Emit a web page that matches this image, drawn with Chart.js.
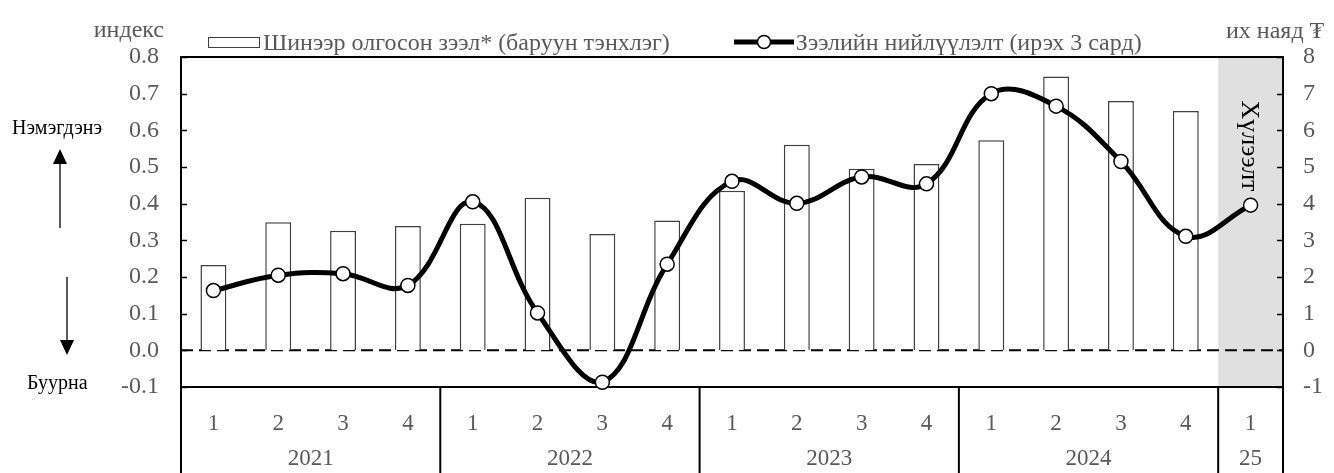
<!DOCTYPE html>
<html lang="mn">
<head>
<meta charset="utf-8">
<title>Зээлийн нийлүүлэлт</title>
<script src="https://cdn.jsdelivr.net/npm/chart.js@4.4.1/dist/chart.umd.min.js"></script>
<style>
  html, body { margin: 0; padding: 0; background: #fff; }
  #wrap {
    position: relative;
    width: 1334px;
    height: 473px;
    font-family: 'Liberation Serif', 'Times New Roman', 'DejaVu Serif', serif;
  }
  #chart-box { position: absolute; left: 0; top: 0; width: 1334px; height: 473px; }
  .txt { position: absolute; white-space: nowrap; line-height: 1; }
  .axis-title { font-size: 24px; color: #595959; }
  .side-note { font-size: 20px; color: #000; }
  #legend {
    position: absolute; left: 208px; top: 30px;
    display: flex; align-items: center;
    font-size: 24px; color: #595959; white-space: nowrap; line-height: 1;
  }
  .legend-box {
    display: inline-block; width: 50px; height: 9px;
    border: 1.5px solid #404040; background: #fff; margin-right: 3px;
  }
  .legend-line { display: inline-block; margin-left: 64px; margin-right: 2px; }
  #arrows { position: absolute; left: 0; top: 0; pointer-events: none; }
</style>
</head>
<body>
<div id="wrap">
  <div id="chart-box"><canvas id="chart"></canvas></div>

  <div class="txt axis-title" style="right:1170px; top:17px;">индекс</div>
  <div class="txt axis-title" style="left:1226px; top:18px;">их наяд ₮</div>

  <div id="legend">
    <span class="legend-box"></span><span>Шинээр олгосон зээл* (баруун тэнхлэг)</span>
    <svg class="legend-line" width="60" height="16" viewBox="0 0 60 16">
      <line x1="0" y1="8" x2="60" y2="8" stroke="#000" stroke-width="5"/>
      <circle cx="30" cy="8" r="6.5" fill="#fff" stroke="#000" stroke-width="1.5"/>
    </svg><span>Зээлийн нийлүүлэлт (ирэх 3 сард)</span>
  </div>

  <div class="txt side-note" style="left:12px; top:117px;">Нэмэгдэнэ</div>
  <div class="txt side-note" style="left:27px; top:372px;">Буурна</div>

  <svg id="arrows" width="120" height="473">
    <line x1="60" y1="228" x2="60" y2="162" stroke="#000" stroke-width="1.3"/>
    <polygon points="53,164 67,164 60,149" fill="#000"/>
    <line x1="67" y1="277" x2="67" y2="342" stroke="#000" stroke-width="1.3"/>
    <polygon points="60,340 74,340 67,355" fill="#000"/>
  </svg>
</div>

<script>
// Quarters along the bottom, grouped by year
const quarterLabels = ['1', '2', '3', '4', '1', '2', '3', '4', '1', '2', '3', '4', '1', '2', '3', '4', '1'];
const yearLabels = ['2021', '2022', '2023', '2024', '25'];
const quartersPerYear = [4, 4, 4, 4, 1];

// New loans issued, trillion ₮ (right axis)
const newLoans = [2.33, 3.49, 3.26, 3.39, 3.45, 4.16, 3.17, 3.54, 4.35, 5.61, 4.95, 5.08, 5.73, 7.47, 6.80, 6.53, null];
// Credit supply index, next 3 months (left axis)
const creditSupply = [0.163, 0.205, 0.209, 0.177, 0.405, 0.102, -0.087, 0.235, 0.461, 0.401, 0.473, 0.454, 0.700, 0.666, 0.515, 0.311, 0.396];

const leftTicks = [-0.1, 0.0, 0.1, 0.2, 0.3, 0.4, 0.5, 0.6, 0.7, 0.8];
const rightTicks = [-1, 0, 1, 2, 3, 4, 5, 6, 7, 8];

// Last category is an expectation
const forecastFrom = 16;
const forecastLabel = 'Хүлээлт';

const SERIF = "'Liberation Serif', 'Times New Roman', serif";
const GREY = '#595959';

/**
 * Shading, zero line, frame, inner ticks and the two-row x axis
 */
const decorPlugin = {
  id: 'decor',
  beforeDatasetsDraw(chart) {
    const { ctx, chartArea: a, scales: { x, y, y1 } } = chart;
    const half = (x.getPixelForValue(1) - x.getPixelForValue(0)) / 2;
    ctx.save();

    // forecast shading
    const fx = x.getPixelForValue(forecastFrom) - half;
    ctx.fillStyle = '#e0e0e0';
    ctx.fillRect(fx, a.top, a.right - fx, a.bottom - a.top);

    // forecast text, rotated
    ctx.save();
    ctx.translate(x.getPixelForValue(forecastFrom) - 2, a.top + 89);
    ctx.rotate(Math.PI / 2);
    ctx.fillStyle = '#000';
    ctx.font = `26px ${SERIF}`;
    ctx.textAlign = 'center';
    ctx.textBaseline = 'middle';
    ctx.fillText(forecastLabel, 0, 0);
    ctx.restore();

    // dashed zero line
    const y0 = y.getPixelForValue(0);
    ctx.strokeStyle = '#000';
    ctx.lineWidth = 2;
    ctx.setLineDash([12, 6]);
    ctx.beginPath();
    ctx.moveTo(a.left, y0);
    ctx.lineTo(a.right, y0);
    ctx.stroke();
    ctx.setLineDash([]);

    // frame
    ctx.strokeRect(a.left, a.top, a.right - a.left, a.bottom - a.top);

    // tick marks pointing inwards
    ctx.lineWidth = 1.5;
    ctx.beginPath();
    y.ticks.forEach(t => {
      const py = Math.round(y.getPixelForValue(t.value)) + 0.5;
      ctx.moveTo(a.left, py);
      ctx.lineTo(a.left + 6, py);
    });
    y1.ticks.forEach(t => {
      const py = Math.round(y1.getPixelForValue(t.value)) + 0.5;
      ctx.moveTo(a.right - 6, py);
      ctx.lineTo(a.right, py);
    });
    ctx.stroke();
    ctx.restore();
  },
  afterDraw(chart) {
    const { ctx, chartArea: a, scales: { x } } = chart;
    const half = (x.getPixelForValue(1) - x.getPixelForValue(0)) / 2;
    const bottom = chart.height;
    ctx.save();
    ctx.strokeStyle = '#000';
    ctx.lineWidth = 2;
    ctx.fillStyle = GREY;
    ctx.font = `23px ${SERIF}`;
    ctx.textAlign = 'center';
    ctx.textBaseline = 'middle';

    let start = 0;
    const edges = [x.getPixelForValue(0) - half];
    yearLabels.forEach((label, i) => {
      const end = start + quartersPerYear[i] - 1;
      const left = x.getPixelForValue(start) - half;
      const right = x.getPixelForValue(end) + half;
      ctx.fillText(label, (left + right) / 2, a.bottom + 72);
      edges.push(right);
      start = end + 1;
    });

    ctx.beginPath();
    edges.forEach(px => {
      ctx.moveTo(px, a.bottom);
      ctx.lineTo(px, bottom);
    });
    ctx.stroke();
    ctx.restore();
  }
};

const canvas = document.getElementById('chart');

new Chart(canvas, {
  type: 'bar',
  data: {
    labels: quarterLabels,
    datasets: [
      {
        type: 'line',
        label: 'Зээлийн нийлүүлэлт (ирэх 3 сард)',
        data: creditSupply,
        yAxisID: 'y',
        borderColor: '#000',
        borderWidth: 5,
        tension: 0.4,
        pointRadius: 7,
        pointHoverRadius: 7,
        pointBackgroundColor: '#fff',
        pointBorderColor: '#000',
        pointBorderWidth: 1.5,
        fill: false,
        clip: false,
        order: 0
      },
      {
        type: 'bar',
        label: 'Шинээр олгосон зээл* (баруун тэнхлэг)',
        data: newLoans,
        yAxisID: 'y1',
        backgroundColor: '#fff',
        borderColor: '#404040',
        borderWidth: 1.5,
        borderSkipped: 'start',
        barPercentage: 0.4,
        categoryPercentage: 1,
        order: 1
      }
    ]
  },
  options: {
    responsive: true,
    maintainAspectRatio: false,
    animation: false,
    layout: { padding: { top: 57, left: 0, right: 0, bottom: 0 } },
    plugins: {
      legend: { display: false },
      title: { display: false },
      tooltip: { enabled: false }
    },
    scales: {
      x: {
        type: 'category',
        offset: true,
        grid: { display: false },
        border: { display: false },
        ticks: {
          color: GREY,
          font: { family: SERIF, size: 23 },
          padding: 15,
          maxRotation: 0,
          autoSkip: false
        },
        afterFit: scale => { scale.height = 86; }
      },
      y: {
        position: 'left',
        min: -0.1,
        max: 0.8,
        grid: { display: false, drawTicks: false },
        border: { display: false },
        afterBuildTicks: scale => { scale.ticks = leftTicks.map(v => ({ value: v })); },
        ticks: {
          color: GREY,
          font: { family: SERIF, size: 24 },
          padding: 22,
          callback: v => v.toFixed(1)
        },
        afterFit: scale => { scale.width = 181; }
      },
      y1: {
        position: 'right',
        min: -1,
        max: 8,
        grid: { display: false, drawTicks: false },
        border: { display: false },
        afterBuildTicks: scale => { scale.ticks = rightTicks.map(v => ({ value: v })); },
        ticks: {
          color: GREY,
          font: { family: SERIF, size: 24 },
          padding: 20,
          callback: v => String(v)
        },
        afterFit: scale => { scale.width = 51; }
      }
    }
  },
  plugins: [decorPlugin]
});
</script>
</body>
</html>
